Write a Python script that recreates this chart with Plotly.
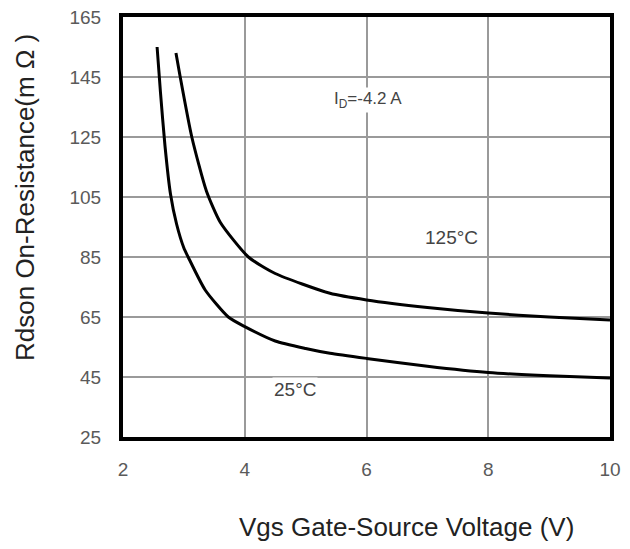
import plotly.graph_objects as go

# Data
vgs_25c = [2.56, 2.615, 2.69, 2.78, 2.88, 3.0, 3.07, 3.35, 3.73, 4.0, 4.5, 5.0, 5.4, 6.0, 7.0, 8.0, 9.0, 10.0]
rds_25c = [155, 140, 122, 106, 96, 88, 85, 74, 65, 61.8, 57, 54.5, 52.9, 51.2, 48.6, 46.5, 45.4, 44.7]

vgs_125c = [2.87, 2.94, 3.13, 3.37, 3.6, 4.06, 4.5, 5.4, 6.0, 7.0, 8.0, 9.0, 10.0]
rds_125c = [153, 145, 125, 107, 96.5, 85, 79.5, 72.9, 70.7, 68.2, 66.3, 65, 64]

x_ticks = [2, 4, 6, 8, 10]
y_ticks = [25, 45, 65, 85, 105, 125, 145, 165]

x_title = "Vgs Gate-Source Voltage (V)"
y_title = "Rdson On-Resistance(m Ω )"

labels = [
    {"text": "I<sub>D</sub>=-4.2 A", "x": 6.03, "y": 137.5, "size": 17},
    {"text": "125°C", "x": 7.39, "y": 91.5, "size": 19},
    {"text": "25°C", "x": 4.83, "y": 40.7, "size": 19},
]

# browser page offset (default body margin) compensation
OFF = 8
W, H = 630, 549
PL, PR, PT, PB = 123, 610, 17, 437  # plot area in page pixels

fig = go.Figure()
for xs, ys, name in [(vgs_25c, rds_25c, "25°C"), (vgs_125c, rds_125c, "125°C")]:
    fig.add_trace(go.Scatter(
        x=xs, y=ys, mode="lines", name=name,
        line=dict(color="black", width=3, shape="spline", smoothing=0.6),
        showlegend=False,
    ))

font_family = "Liberation Sans, Arial, sans-serif"

fig.update_layout(
    width=W, height=H,
    margin=dict(l=PL - OFF, r=W + OFF - PR, t=PT - OFF, b=H + OFF - PB, autoexpand=False),
    paper_bgcolor="white", plot_bgcolor="white",
    font=dict(family=font_family, color="#555555", size=19),
    xaxis=dict(
        range=[2, 10], tickvals=x_ticks, ticktext=[str(v) for v in x_ticks],
        showgrid=True, gridcolor="#9a9a9a", gridwidth=2,
        showline=True, linecolor="black", linewidth=4, mirror=True,
        ticks="", ticklabelstandoff=12, zeroline=False, automargin=False,
        ticklabeloverflow="allow",
        tickfont=dict(size=19, color="#5a5a5a"),
    ),
    yaxis=dict(
        range=[25, 165], tickvals=y_ticks, ticktext=[str(v) for v in y_ticks],
        showgrid=True, gridcolor="#9a9a9a", gridwidth=2,
        showline=True, linecolor="black", linewidth=4, mirror=True,
        ticks="", ticklabelstandoff=14, zeroline=False, automargin=False,
        ticklabeloverflow="allow",
        tickfont=dict(size=19, color="#5a5a5a"),
    ),
)

for lab in labels:
    fig.add_annotation(
        x=lab["x"], y=lab["y"], xref="x", yref="y", text=lab["text"],
        showarrow=False, bgcolor="white", borderpad=1,
        xanchor="center", yanchor="middle",
        font=dict(size=lab["size"], color="#444444", family=font_family),
    )

pw = PR - PL
ph = PB - PT
fig.add_annotation(
    x=(406 - PL) / pw, y=1 - (527 - PT) / ph, xref="paper", yref="paper",
    text=x_title, showarrow=False, xanchor="center", yanchor="middle",
    font=dict(size=26, color="#222222", family=font_family),
)
fig.add_annotation(
    x=(25 - PL) / pw, y=1 - (198 - PT) / ph, xref="paper", yref="paper",
    text=y_title, showarrow=False, textangle=-90, xanchor="center", yanchor="middle",
    font=dict(size=26, color="#222222", family=font_family),
)

fig.write_html("out.html")
